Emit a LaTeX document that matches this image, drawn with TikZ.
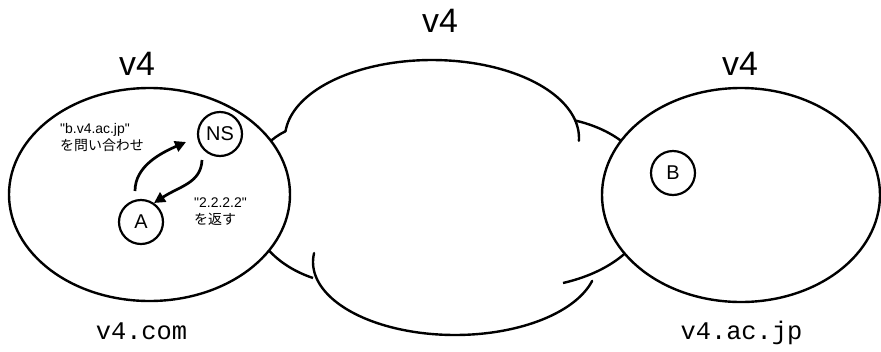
\documentclass[tikz,border=0pt]{standalone}
\usepackage{fontspec}
\setmainfont{Liberation Sans}
\setmonofont{Liberation Mono}
\newfontfamily\jpfont{Noto Sans CJK JP}
\usetikzlibrary{arrows.meta,shapes.geometric}

\begin{document}
\begin{tikzpicture}[x=1bp, y=-1bp,
  outline/.style={line width=2.4bp, black},
  site/.style={ellipse, draw, outline, fill=white, inner sep=0pt},
  host/.style={circle, draw, line width=2.2bp, fill=white, inner sep=0pt,
    minimum size=44bp, font=\fontsize{20}{24}\selectfont},
  query/.style={line width=2.7bp, -{Triangle[length=11bp,width=11bp]}},
  netlabel/.style={font=\fontsize{34}{40}\selectfont, inner sep=0pt, anchor=base},
  domainlabel/.style={font=\ttfamily\fontsize{25.5}{30}\selectfont, inner sep=0pt, anchor=base},
  note/.style={font=\fontsize{14}{17}\selectfont, inner sep=0pt, align=left, anchor=base west}
]
\useasboundingbox (0,0) rectangle (881,351);

% cloud in the middle: upper and lower lobes, side lobes run under the sites
\draw[outline, line cap=round] plot[domain=185:362, samples=80]
  ({432+147*cos(\x)}, {138+78*sin(\x)});
\draw[outline, line cap=round] plot[domain=15:187, samples=80]
  ({455+142*cos(\x)}, {262+73*sin(\x)});
\draw[outline] (285.6,131.2) .. controls (230,158) and (230,250) .. (313,278);
\draw[outline] (575.2,120.5) .. controls (680,145) and (680,256) .. (563,283);

% the two sites
\node[site, minimum width=281bp, minimum height=213bp] (siteL) at (149.5,194.5) {};
\node[site, minimum width=278bp, minimum height=214bp] (siteR) at (741,195) {};

% hosts
\node[host] (ns) at (220,134) {NS};
\node[host] (a) at (141,222) {A};
\node[host] (b) at (673,173) {B};

% name lookup and answer
\coordinate (qs) at (135,191);
\coordinate (qe) at (186,142);
\coordinate (rs) at (202,160);
\coordinate (re) at (154,203);
\draw[query] (qs) .. controls (135,166) and (161,153) .. (qe);
\draw[query] (rs) .. controls (201,183) and (180,186) .. (re);

% the multi-line notes sit on the baseline of their last line
\node[note] (asklbl) at (60,150) {\textquotedbl b.v4.ac.jp\textquotedbl\\{\jpfont を問い合わせ}};
\node[note] (anslbl) at (194,224) {\textquotedbl 2.2.2.2\textquotedbl\\{\jpfont を返す}};

% labels
\node[netlabel] (v4L) at (137,75) {v4};
\node[netlabel] (v4M) at (440,32) {v4};
\node[netlabel] (v4R) at (740,75) {v4};
\node[domainlabel] (domL) at (141.5,339) {v4.com};
\node[domainlabel] (domR) at (741.5,339) {v4.ac.jp};
\end{tikzpicture}
\end{document}
